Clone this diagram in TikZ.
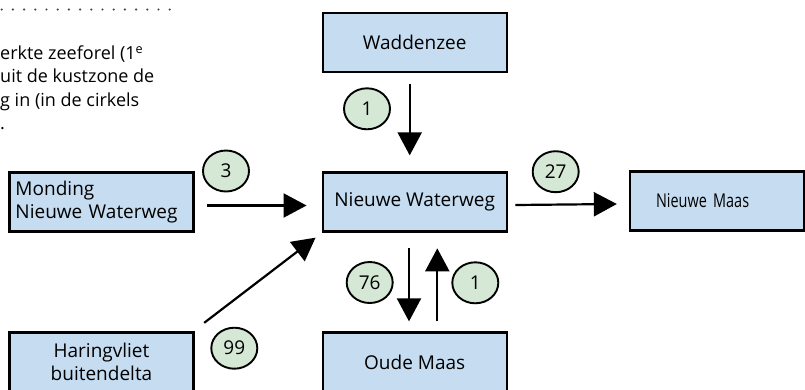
\documentclass[tikz,border=0pt]{standalone}
\usepackage{fontspec}
\setmainfont{Open Sans}
\newfontfamily\narrowsans[FakeStretch=0.76]{Open Sans}
\usetikzlibrary{arrows.meta,shapes.geometric}
\definecolor{boxblue}{RGB}{197,220,241}
\definecolor{numgreen}{RGB}{213,232,213}
\definecolor{dotgrey}{RGB}{70,70,70}

\begin{document}
\begin{tikzpicture}[x=1pt,y=-1pt,
  place/.style={draw=black, line width=2.3pt, fill=boxblue,
    minimum width=184pt, minimum height=59pt, inner sep=0pt, align=center,
    font=\fontsize{19}{23}\selectfont},
  count/.style={ellipse, draw=black, line width=1.9pt, fill=numgreen,
    minimum width=46pt, minimum height=41pt, inner sep=0pt,
    font=\fontsize{19}{22}\selectfont},
  flow/.style={line width=2.2pt, -{Triangle[length=23pt,width=24pt]}},
  caption/.style={anchor=base west, inner sep=0pt,
    font=\fontsize{18}{22}\selectfont}]
\useasboundingbox (0,0) rectangle (805,389);

% cut-off caption text at the top left
\draw[dotgrey, line width=2.4pt, line cap=round, dash pattern=on 0pt off 11.2pt]
  (1.7,9.5) -- (176,9.5);
\node[caption] (cap1) at (0,59.3) {erkte zeeforel (1\textsuperscript{e}};
\node[caption] (cap2) at (0,82.7) {uit de kustzone de};
\node[caption] (cap3) at (0,106) {g in (in de cirkels};
\node[caption] (cap4) at (0,129) {.};

% water bodies
\node[place] (wad) at (414.7,42.2) {Waddenzee};
\node[place] (nw) at (414.7,202) {Nieuwe Waterweg};
\node[place] (om) at (414.7,362) {Oude Maas};
\node[place, text width=166pt, align=left] (mond) at (101.5,202)
  {\hspace*{-3pt}Monding\\\hspace*{-3pt}Nieuwe Waterweg};
\node[place] (har) at (101.5,362) {Haringvliet\\buitendelta};
\node[place, minimum width=174pt, text width=154pt, align=left,
  font=\narrowsans\fontsize{19}{23}\selectfont] (nm) at (717,201) {\hspace*{16pt}Nieuwe Maas};

% flows
\draw[flow] ([shift={(-5pt,-11pt)}]wad.south) -- ([shift={(-5pt,16pt)}]nw.north);
\draw[flow] ([shift={(12pt,-3.5pt)}]mond.east) -- ([shift={(-15pt,-3.5pt)}]nw.west);
\draw[flow] ([shift={(7.5pt,-3pt)}]nw.east) -- ([shift={(-12pt,-3pt)}]nm.west);
\draw[flow] ([shift={(9.5pt,8.5pt)}]har.north east) -- ([shift={(-6pt,-5pt)}]nw.south west);
\draw[flow] ([shift={(-5.7pt,-15.7pt)}]nw.south) -- ([shift={(-5.7pt,10pt)}]om.north);
\draw[flow] ([shift={(22.6pt,10pt)}]om.north) -- ([shift={(22.6pt,-15.7pt)}]nw.south);

% counts
\node[count] (c3) at (226,171) {3};
\node[count] (c27) at (555.7,171.7) {27};
\node[count] (c1a) at (367,108.8) {1};
\node[count] (c76) at (369.7,282.5) {76};
\node[count] (c1b) at (475.3,282.8) {1};
\node[count] (c99) at (234.3,348.2) {99};
\end{tikzpicture}
\end{document}
